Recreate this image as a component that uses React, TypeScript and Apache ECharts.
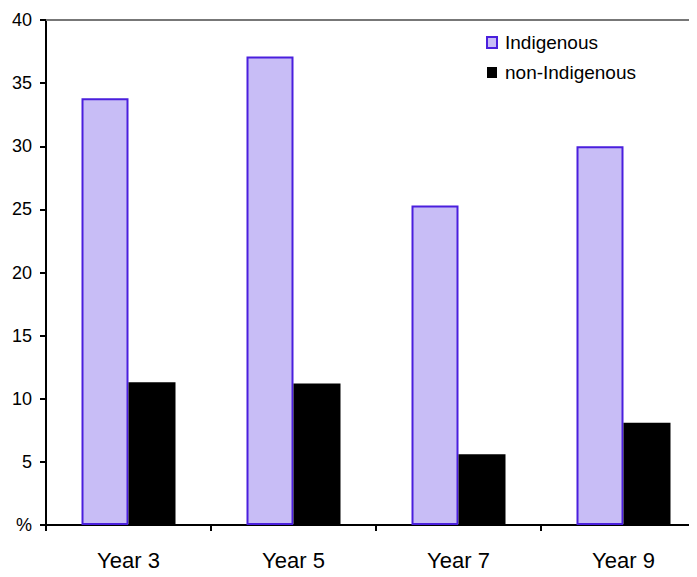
import React, { useEffect, useRef } from "react";
import * as echarts from "echarts";

const categories = ["Year 3", "Year 5", "Year 7", "Year 9"];
const indigenous = [33.8, 37.1, 25.3, 30.0];
const nonIndigenous = [11.3, 11.2, 5.6, 8.1];
const yTicks = { min: 0, max: 40, interval: 5 };

export default function App() {
  const ref = useRef<HTMLDivElement>(null);
  useEffect(() => {
    if (!ref.current) return;
    const chart = echarts.init(ref.current, null, { renderer: "svg" });
    const font = "'Liberation Sans', Arial, sans-serif";
    chart.setOption({
      animation: false,
      textStyle: { fontFamily: font, color: "#000" },
      grid: {
        left: 46,
        top: 20,
        width: 660,
        bottom: 52,
        containLabel: false,
        outerBoundsMode: "none",
      },
      legend: {
        orient: "vertical",
        left: 486,
        top: 33,
        padding: 0,
        itemWidth: 10,
        itemHeight: 11,
        itemGap: 11,
        icon: "rect",
        textStyle: { fontFamily: font, fontSize: 19, color: "#000", padding: [0, 0, 0, 3] },
        data: ["Indigenous", "non-Indigenous"],
      },
      xAxis: [
        {
          type: "category",
          data: categories,
          position: "bottom",
          axisLine: { lineStyle: { color: "#000", width: 2 } },
          axisTick: { show: true, length: 6, lineStyle: { color: "#000", width: 2 } },
          axisLabel: { fontFamily: font, fontSize: 22, color: "#000", margin: 24 },
        },
        {
          type: "category",
          data: categories,
          position: "top",
          axisLine: { lineStyle: { color: "#777", width: 2 } },
          axisTick: { show: false },
          axisLabel: { show: false },
        },
      ],
      yAxis: {
        type: "value",
        min: yTicks.min,
        max: yTicks.max,
        interval: yTicks.interval,
        axisLine: { show: true, lineStyle: { color: "#000", width: 2 } },
        axisTick: { show: true, length: 6, lineStyle: { color: "#000", width: 2 } },
        splitLine: { show: false },
        axisLabel: {
          fontFamily: font,
          fontSize: 18,
          color: "#000",
          margin: 14,
          formatter: (v: number) => (v === 0 ? "%" : String(v)),
        },
      },
      series: [
        {
          name: "Indigenous",
          type: "bar",
          data: indigenous,
          barWidth: 47,
          barGap: "0%",
          itemStyle: { color: "#C8BDF6", borderColor: "#4A1FDD", borderWidth: 2 },
        },
        {
          name: "non-Indigenous",
          type: "bar",
          data: nonIndigenous,
          barWidth: 47,
          barGap: "0%",
          itemStyle: { color: "#000" },
        },
      ],
    });
    return () => chart.dispose();
  }, []);
  return <div ref={ref} style={{ width: 697, height: 577, margin: -8 }} />;
}
